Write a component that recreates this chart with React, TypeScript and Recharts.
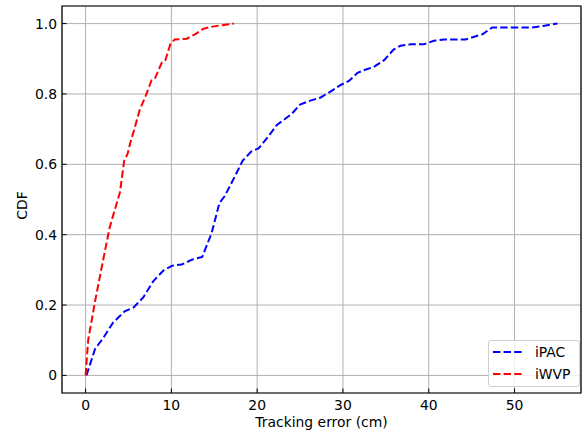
import { LineChart, Line, XAxis, YAxis, CartesianGrid, ReferenceArea, Legend } from 'recharts';

const FONT = '"DejaVu Sans", sans-serif';
const FS = 13.9;

const xTicks = [0, 10, 20, 30, 40, 50];
const yTicks = [0, 0.2, 0.4, 0.6, 0.8, 1.0];

// tracking error (cm) / cumulative fraction
const ipacError = [
  0.1, 1.1, 2.1, 3.2, 4.6, 5.6, 6.7, 7.9, 9.1, 10.1, 11.2, 12.4, 13.6, 14.7, 15.6, 16.2,
  17.2, 18.3, 19.3, 20.2, 21.3, 22.3, 23.1, 24.1, 25.0, 26.2, 27.4, 28.5, 29.7, 30.7, 31.7,
  32.5, 33.6, 34.8, 35.9, 36.7, 37.9, 39.4, 40.6, 41.8, 44.3, 46.3, 47.4, 49.6, 52.1, 53.5, 55.0,
];
const ipacCdf = [
  0, 0.075, 0.108, 0.15, 0.183, 0.193, 0.221, 0.268, 0.299, 0.312, 0.315, 0.329, 0.337, 0.405,
  0.49, 0.509, 0.556, 0.61, 0.636, 0.646, 0.679, 0.712, 0.726, 0.745, 0.77, 0.781, 0.79, 0.806,
  0.825, 0.837, 0.86, 0.868, 0.877, 0.896, 0.926, 0.937, 0.941, 0.941, 0.951, 0.955, 0.955, 0.97,
  0.989, 0.989, 0.989, 0.994, 1.0,
];

const iwvpError = [
  0, 0.3, 1.1, 1.9, 2.8, 3.4, 4.0, 4.5, 4.9, 5.2, 5.8, 6.3, 7.1, 7.7, 8.1, 8.9, 9.3, 9.9,
  10.4, 11.8, 12.8, 13.7, 14.5, 15.7, 17.3,
];
const iwvpCdf = [
  0, 0.1, 0.21, 0.31, 0.42, 0.47, 0.52, 0.61, 0.63, 0.66, 0.71, 0.754, 0.8, 0.84, 0.845, 0.89,
  0.896, 0.943, 0.955, 0.957, 0.97, 0.985, 0.99, 0.995, 1.0,
];

const toPoints = (xs: number[], ys: number[]) => xs.map((x, i) => ({ x, y: ys[i] }));

const series = [
  { name: 'iPAC', color: '#0000ff', data: toPoints(ipacError, ipacCdf) },
  { name: 'iWVP', color: '#ff0000', data: toPoints(iwvpError, iwvpCdf) },
];

const XTick = ({ x, y, payload }: any) => (
  <g>
    <line x1={x} y1={y} x2={x} y2={y - 4.5} stroke="#000" strokeWidth={1} />
    <text x={x} y={y + 16.8} textAnchor="middle" fontSize={FS} fontFamily={FONT} fill="#000">
      {payload.value}
    </text>
  </g>
);

const YTick = ({ x, y, payload }: any) => (
  <g>
    <line x1={x} y1={y} x2={x + 4.5} y2={y} stroke="#000" strokeWidth={1} />
    <text x={x - 5} y={y + 5} textAnchor="end" fontSize={FS} fontFamily={FONT} fill="#000">
      {payload.value === 0 ? '0' : payload.value.toFixed(1)}
    </text>
  </g>
);

const XLabel = ({ viewBox }: any) => (
  <text
    x={viewBox.x + viewBox.width / 2}
    y={viewBox.y + 34}
    textAnchor="middle"
    fontSize={FS}
    fontFamily={FONT}
    fill="#000"
  >
    Tracking error (cm)
  </text>
);

const YLabel = ({ viewBox }: any) => {
  const cx = viewBox.x + 22;
  const cy = viewBox.y + viewBox.height / 2 + 6;
  return (
    <text
      x={cx}
      y={cy}
      transform={`rotate(-90, ${cx}, ${cy})`}
      textAnchor="middle"
      dominantBaseline="central"
      fontSize={FS}
      fontFamily={FONT}
      fill="#000"
    >
      CDF
    </text>
  );
};

const LegendBox = () => (
  <div
    style={{
      width: 92,
      height: 47,
      boxSizing: 'border-box',
      border: '1px solid #d0d0d0',
      borderRadius: 3,
      background: 'rgba(255,255,255,0.8)',
      fontFamily: FONT,
      fontSize: FS,
      color: '#000',
    }}
  >
    {series.map((s) => (
      <div key={s.name} style={{ display: 'flex', alignItems: 'center', height: 22 }}>
        <svg width={31} height={4} style={{ marginLeft: 4 }}>
          <line x1={0} y1={2} x2={31} y2={2} stroke={s.color} strokeWidth={2} strokeDasharray="7.4 3.2" />
        </svg>
        <span style={{ marginLeft: 11 }}>{s.name}</span>
      </div>
    ))}
  </div>
);

export default function App() {
  return (
    <div style={{ width: 582, height: 434, background: '#fff' }}>
      <style>{'body{margin:0}'}</style>
      <LineChart width={582} height={434} margin={{ top: 6, right: 1, left: 0, bottom: 0 }}>
        <CartesianGrid stroke="#b0b0b0" strokeWidth={1} />
        <XAxis
          type="number"
          dataKey="x"
          domain={[-2.75, 57.75]}
          ticks={xTicks}
          allowDataOverflow
          height={41}
          axisLine={false}
          tickLine={false}
          tickSize={0}
          tickMargin={0}
          tick={<XTick />}
          label={{ content: XLabel }}
        />
        <YAxis
          type="number"
          domain={[-0.05, 1.05]}
          ticks={yTicks}
          allowDataOverflow
          width={62}
          axisLine={false}
          tickLine={false}
          tickSize={0}
          tickMargin={0}
          tick={<YTick />}
          label={{ content: YLabel }}
        />
        {series.map((s) => (
          <Line
            key={s.name}
            data={s.data}
            dataKey="y"
            name={s.name}
            type="linear"
            stroke={s.color}
            strokeWidth={2}
            strokeDasharray="7.4 3.2"
            dot={false}
            activeDot={false}
            isAnimationActive={false}
          />
        ))}
        <ReferenceArea
          x1={-2.75}
          x2={57.75}
          y1={-0.05}
          y2={1.05}
          fill="none"
          fillOpacity={0}
          stroke="#000"
          strokeWidth={1.2}
          ifOverflow="visible"
        />
        <Legend
          layout="vertical"
          align="center"
          verticalAlign="middle"
          content={<LegendBox />}
          wrapperStyle={{ left: 488, top: 340, width: 92, height: 47 }}
        />
      </LineChart>
    </div>
  );
}
